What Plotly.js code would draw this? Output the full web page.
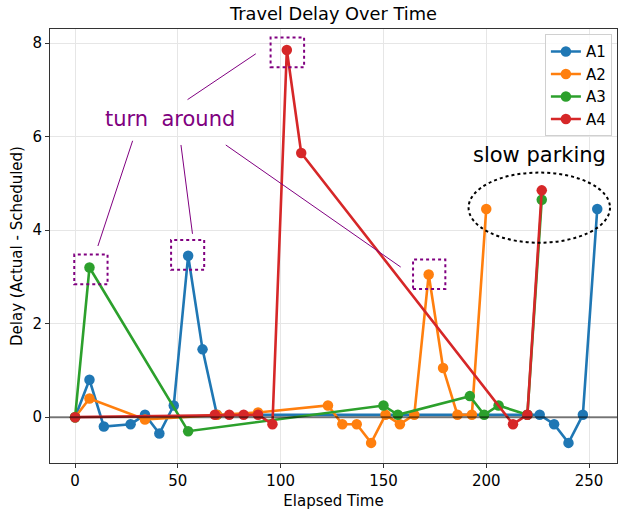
<!DOCTYPE html>
<html>
<head>
<meta charset="utf-8">
<script src="https://cdn.plot.ly/plotly-3.0.1.min.js"></script>
<style>html,body{margin:0;padding:0;background:#fff;}#chart{width:619px;height:511px;}</style>
</head>
<body>
<div id="chart"></div>
<script>
// ---- data ----
const seriesNames = ["A1", "A2", "A3", "A4"];
const seriesColors = ["#1f77b4", "#ff7f0e", "#2ca02c", "#d62728"];

const a1X = [0, 7, 14, 27, 34, 41, 48, 55, 62, 69, 220, 226, 233, 240, 247, 254];
const a1Y = [0, 0.8, -0.2, -0.15, 0.05, -0.35, 0.25, 3.45, 1.45, 0.05, 0.05, 0.05, -0.15, -0.55, 0.05, 4.45];

const a2X = [0, 7, 34, 69, 89, 123, 130, 137, 144, 151, 158, 165, 172, 179, 186, 193, 200];
const a2Y = [0, 0.4, -0.05, 0.05, 0.1, 0.25, -0.15, -0.15, -0.55, 0.05, -0.15, 0.05, 3.05, 1.05, 0.05, 0.05, 4.45];

const a3X = [0, 7, 55, 150, 157, 192, 199, 206, 220, 227];
const a3Y = [0, 3.2, -0.3, 0.25, 0.05, 0.45, 0.05, 0.25, 0.05, 4.65];

const a4X = [0, 68, 75, 82, 89, 96, 103, 110, 213, 220, 227];
const a4Y = [0, 0.05, 0.05, 0.05, 0.05, -0.15, 7.85, 5.65, -0.15, 0.05, 4.85];

const xTicks = [0, 50, 100, 150, 200, 250];
const yTicks = [0, 2, 4, 6, 8];

// annotation geometry (data coordinates)
const boxes = [
  [-0.4, 15.8, 2.84, 3.48],
  [46.7, 62.8, 3.15, 3.79],
  [95.1, 111.4, 7.48, 8.12],
  [164.4, 180.1, 2.74, 3.37]
];
const pointerLines = [
  [28.0, 5.91, 11.1, 3.66],
  [51.5, 5.82, 57.1, 3.92],
  [73.3, 5.82, 158.4, 3.21],
  [54.7, 6.79, 87.9, 7.77]
];
const ellipse = [191.4, 260.2, 3.73, 5.23];

// ---- build ----
const xs = [a1X, a2X, a3X, a4X];
const ys = [a1Y, a2Y, a3Y, a4Y];
const traces = seriesNames.map((n, i) => ({
  x: xs[i], y: ys[i], name: n, type: "scatter", mode: "lines+markers",
  line: {color: seriesColors[i], width: 2.6},
  marker: {color: seriesColors[i], size: 10.5}
}));

const purple = "#800080";
const shapes = [];
boxes.forEach(b => shapes.push({type: "rect", xref: "x", yref: "y", x0: b[0], x1: b[1], y0: b[2], y1: b[3],
  line: {color: purple, width: 2, dash: "dot"}}));
pointerLines.forEach(l => shapes.push({type: "line", xref: "x", yref: "y", x0: l[0], y0: l[1], x1: l[2], y1: l[3],
  line: {color: purple, width: 1}}));
shapes.push({type: "circle", xref: "x", yref: "y", x0: ellipse[0], x1: ellipse[1], y0: ellipse[2], y1: ellipse[3],
  line: {color: "#000", width: 2, dash: "dot"}});
shapes.push({type: "line", xref: "paper", yref: "y", x0: 0, x1: 1, y0: 0, y1: 0,
  line: {color: "rgba(0,0,0,0.5)", width: 2}, layer: "above"});

const font = "DejaVu Sans, sans-serif";
const layout = {
  width: 619, height: 511,
  margin: {l: 50, r: 2, t: 29, b: 48},
  paper_bgcolor: "#fff", plot_bgcolor: "#fff",
  font: {family: font, size: 15, color: "#000"},
  title: {text: "Travel Delay Over Time", font: {family: font, size: 17.8, color: "#000"},
    xref: "paper", x: 0.5, xanchor: "center", yref: "container", y: 0.973, yanchor: "middle"},
  xaxis: {
    range: [-12.2, 263.6], tickvals: xTicks, ticktext: xTicks.map(String),
    showgrid: true, gridcolor: "#e6e6e6", gridwidth: 1, zeroline: false,
    showline: true, linecolor: "#333", linewidth: 1, mirror: true,
    ticks: "outside", ticklen: 4, tickcolor: "#333",
    title: {text: "Elapsed Time", font: {family: font, size: 15}, standoff: 6},
    tickfont: {family: font, size: 15}
  },
  yaxis: {
    range: [-0.98, 8.3], tickvals: yTicks, ticktext: yTicks.map(String),
    showgrid: true, gridcolor: "#e6e6e6", gridwidth: 1, zeroline: false,
    showline: true, linecolor: "#333", linewidth: 1, mirror: true,
    ticks: "outside", ticklen: 4, tickcolor: "#333",
    title: {text: "Delay (Actual - Scheduled)", font: {family: font, size: 15}, standoff: 6},
    tickfont: {family: font, size: 15}
  },
  legend: {x: 0.991, y: 0.988, xanchor: "right", yanchor: "top", bgcolor: "rgba(255,255,255,0.8)",
    bordercolor: "#d0d0d0", borderwidth: 1, font: {family: font, size: 15}},
  shapes: shapes,
  annotations: [
    {x: 46.2, y: 6.37, xref: "x", yref: "y", text: "turn  around", showarrow: false,
      font: {family: font, size: 21, color: purple}},
    {x: 226, y: 5.6, xref: "x", yref: "y", text: "slow parking", showarrow: false,
      font: {family: font, size: 21, color: "#000"}}
  ]
};

Plotly.newPlot("chart", traces, layout, {displayModeBar: false, staticPlot: true});
</script>
</body>
</html>
